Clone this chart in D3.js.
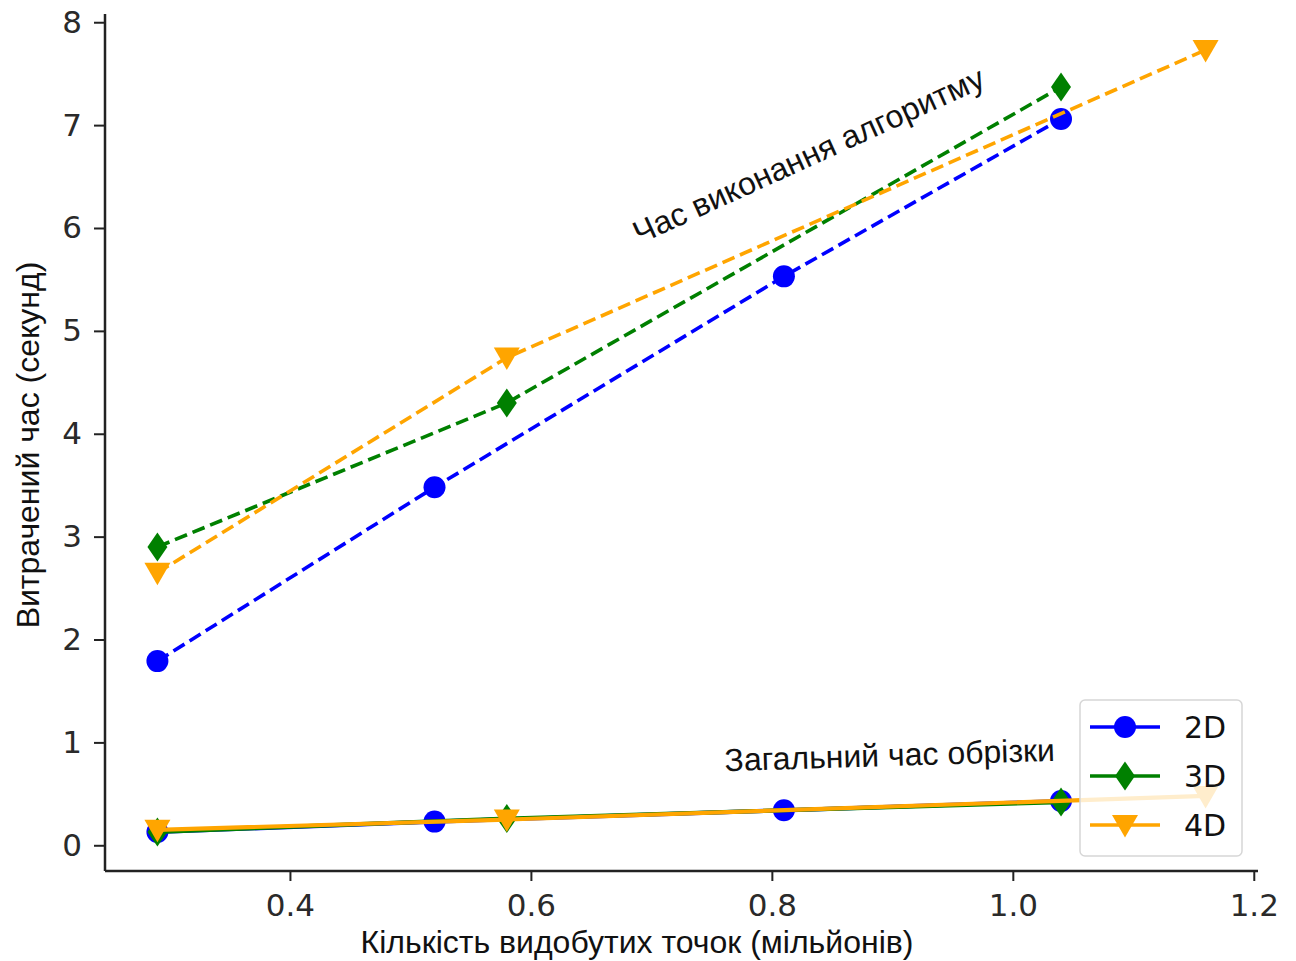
<!DOCTYPE html>
<html>
<head>
<meta charset="utf-8">
<script src="https://cdn.jsdelivr.net/npm/d3@7"></script>
<style>
	body { margin: 0; background: #fff; }
	svg { display: block; }
	.tick text { font-family: "DejaVu Sans", sans-serif; fill: #2a2a2a; }
	.axis_label, .note { font-family: "Liberation Sans", Arial, sans-serif; fill: #111; }
</style>
</head>
<body>
<div id="chart"></div>
<script>
// data (x = millions of points, y = seconds)
var series_names = ["2D", "3D", "4D"];
var colors = ["#0000ff", "#008000", "#ffa500"];
var x_2d = [0.29, 0.52, 0.81, 1.04];
var x_3d = [0.29, 0.58, 1.04];
var x_4d = [0.29, 0.58, 1.16];
// algorithm run time (dashed)
var run_2d = [1.79, 3.48, 5.53, 7.06];
var run_3d = [2.90, 4.30, 7.37];
var run_4d = [2.65, 4.74, 7.73];
// total clipping time (solid)
var clip_2d = [0.13, 0.23, 0.34, 0.43];
var clip_3d = [0.13, 0.26, 0.42];
var clip_4d = [0.15, 0.25, 0.48];
var x_ticks = [0.4, 0.6, 0.8, 1.0, 1.2];
var y_ticks = [0, 1, 2, 3, 4, 5, 6, 7, 8];
var x_label = "Кількість видобутих точок (мільйонів)";
var y_label = "Витрачений час (секунд)";
var note_run = "Час виконання алгоритму";
var note_clip = "Загальний час обрізки";

var W = 1296, H = 961;
var margin = { top: 14, right: 38, bottom: 90, left: 105 };
var width = W - margin.left - margin.right,
	height = H - margin.top - margin.bottom;

var svg = d3.select("#chart").append("svg")
	.attr("width", W)
	.attr("height", H);

var g = svg.append("g")
	.attr("transform", "translate(" + margin.left + "," + margin.top + ")");

var x = d3.scaleLinear().domain([0.2465, 1.2035]).range([0, width]);
var y = d3.scaleLinear().domain([-0.25, 8.08]).range([height, 0]);

// AXES
var x_axis = g.append("g")
	.attr("class", "x axis")
	.attr("transform", "translate(0," + height + ")")
	.call(d3.axisBottom(x).tickValues(x_ticks).tickFormat(d3.format(".1f")).tickSize(10).tickPadding(13));

var y_axis = g.append("g")
	.attr("class", "y axis")
	.call(d3.axisLeft(y).tickValues(y_ticks).tickFormat(d3.format("d")).tickSize(11).tickPadding(12));

g.selectAll(".axis .domain").attr("stroke", "#222").attr("stroke-width", 2.5);
g.selectAll(".axis .tick line").attr("stroke", "#222").attr("stroke-width", 2);
g.selectAll(".axis .tick text").style("font-size", "31px");
// flat domain ends (no outer ticks)
x_axis.select(".domain").attr("d", "M0,0H" + width);
y_axis.select(".domain").attr("d", "M0," + height + "V0");

svg.append("text")
	.attr("class", "axis_label")
	.attr("x", 637)
	.attr("y", 953)
	.attr("text-anchor", "middle")
	.style("font-size", "32px")
	.text(x_label);

svg.append("text")
	.attr("class", "axis_label")
	.attr("transform", "translate(39," + 445 + ")rotate(-90)")
	.attr("text-anchor", "middle")
	.style("font-size", "32px")
	.text(y_label);

// MARKERS
function marker(sel, i) {
	if (i === 0) {
		sel.append("circle").attr("r", 11);
	} else if (i === 1) {
		sel.append("path").attr("d", "M0,-14.5L10,0L0,14.5L-10,0Z");
	} else {
		sel.append("path").attr("d", "M-13,-10L13,-10L0,12.5Z");
	}
}

var line = d3.line()
	.x(function(d) { return x(d[0]); })
	.y(function(d) { return y(d[1]); });

function draw_series(xs, ys, i, dashed) {
	var pts = xs.map(function(v, k) { return [v, ys[k]]; });
	var s = g.append("g").attr("class", "series s" + i);
	s.append("path")
		.datum(pts)
		.attr("d", line)
		.attr("fill", "none")
		.attr("stroke", colors[i])
		.attr("stroke-width", dashed ? 3.6 : 4.2)
		.attr("stroke-dasharray", dashed ? "13,6" : null);
	s.selectAll("g.m")
		.data(pts)
		.enter().append("g")
		.attr("class", "m")
		.attr("fill", colors[i])
		.attr("transform", function(d) { return "translate(" + x(d[0]) + "," + y(d[1]) + ")"; })
		.each(function() { marker(d3.select(this), i); });
}

draw_series(x_2d, run_2d, 0, true);
draw_series(x_3d, run_3d, 1, true);
draw_series(x_4d, run_4d, 2, true);
draw_series(x_2d, clip_2d, 0, false);
draw_series(x_3d, clip_3d, 1, false);
draw_series(x_4d, clip_4d, 2, false);

// annotations
g.append("text")
	.attr("class", "note")
	.attr("transform", "translate(" + x(0.69) + "," + y(5.84) + ")rotate(-24.5)")
	.style("font-size", "32px")
	.text(note_run);

g.append("text")
	.attr("class", "note")
	.attr("transform", "translate(" + x(0.761) + "," + y(0.72) + ")rotate(-1.8)")
	.style("font-size", "32px")
	.text(note_clip);

// LEGEND
var legend = svg.append("g").attr("transform", "translate(1080,700)");
legend.append("rect")
	.attr("width", 162).attr("height", 156)
	.attr("rx", 5)
	.attr("fill", "#fff").attr("fill-opacity", 0.8)
	.attr("stroke", "#d6d6d6").attr("stroke-width", 1.5);

series_names.forEach(function(name, i) {
	var row = legend.append("g").attr("transform", "translate(0," + (27 + i * 49) + ")");
	row.append("line")
		.attr("x1", 10).attr("x2", 80)
		.attr("stroke", colors[i]).attr("stroke-width", 3.6);
	var m = row.append("g").attr("transform", "translate(45,0)").attr("fill", colors[i]);
	marker(m, i);
	row.append("text")
		.attr("x", 104).attr("y", 11)
		.style("font-family", "'DejaVu Sans', sans-serif")
		.style("font-size", "30px")
		.attr("fill", "#111")
		.text(name);
});
</script>
</body>
</html>
